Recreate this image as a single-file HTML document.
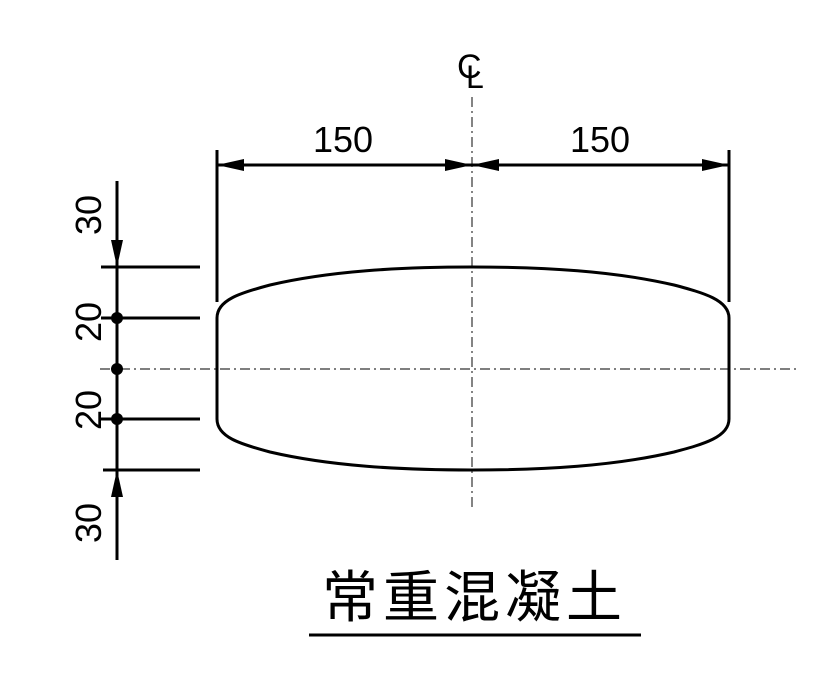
<!DOCTYPE html>
<html><head><meta charset="utf-8"><style>body{margin:0;background:#fff}</style></head><body>
<svg width="825" height="679" xmlns="http://www.w3.org/2000/svg" font-family="'Liberation Sans', sans-serif">
<rect width="825" height="679" fill="#fff"/>
<g stroke="#333" stroke-width="1.2" stroke-dasharray="10,4,2,4" fill="none">
<line x1="472" y1="97" x2="472" y2="510"/>
<line x1="100" y1="369" x2="800" y2="369"/>
</g>
<g stroke="#000" stroke-width="3" fill="none">
<path d="M217,318 C217,300 240,293 270,285 C330,271 400,267 472,267 C544,267 614,271 674,285 C704,293 729,300 729,318 V419 C729,437 704,444 674,452 C614,466 544,470 472,470 C400,470 330,466 270,452 C240,444 217,437 217,419 Z"/>
<line x1="217" y1="150" x2="217" y2="302"/>
<line x1="729" y1="150" x2="729" y2="302"/>
<line x1="217" y1="165" x2="729" y2="165"/>
<line x1="117" y1="181" x2="117" y2="560"/>
<line x1="101" y1="267" x2="200" y2="267"/>
<line x1="101" y1="318" x2="200" y2="318"/>
<line x1="101" y1="419" x2="200" y2="419"/>
<line x1="103" y1="470" x2="200" y2="470"/>
</g>
<g fill="#000">
<polygon points="217,165 244,159 244,171"/>
<polygon points="472,165 445,159 445,171"/>
<polygon points="472,165 499,159 499,171"/>
<polygon points="729,165 702,159 702,171"/>
<polygon points="117,267 111,240 123,240"/>
<polygon points="117,470 111,497 123,497"/>
<circle cx="117" cy="318" r="6"/>
<circle cx="117" cy="369" r="6"/>
<circle cx="117" cy="419" r="6"/>
</g>
<g font-size="36" fill="#000">
<text x="343" y="152" text-anchor="middle">150</text>
<text x="600" y="152" text-anchor="middle">150</text>
<text transform="translate(101,215) rotate(-90)" text-anchor="middle">30</text>
<text transform="translate(101,322) rotate(-90)" text-anchor="middle">20</text>
<text transform="translate(101,410) rotate(-90)" text-anchor="middle">20</text>
<text transform="translate(101,523) rotate(-90)" text-anchor="middle">30</text>
</g>
<text x="457" y="78" font-size="34" fill="#000">C</text>
<text x="466" y="88" font-size="32" fill="#000">L</text>
<text x="322" y="617" font-size="56" letter-spacing="5" fill="#000" font-family="'Liberation Sans','Noto Sans CJK SC',sans-serif">常重混凝土</text>
<line x1="309" y1="635" x2="641" y2="635" stroke="#000" stroke-width="3"/>
</svg>
</body></html>
